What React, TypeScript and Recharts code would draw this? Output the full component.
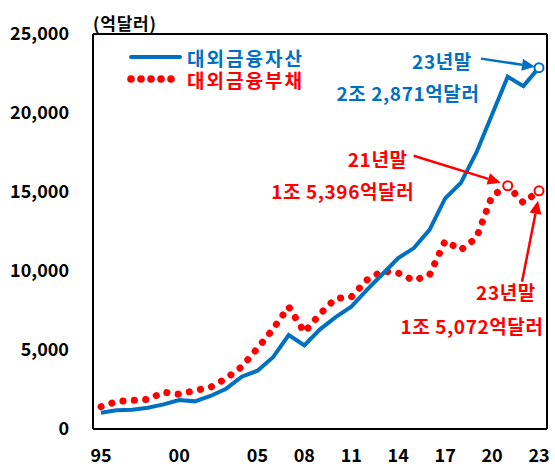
import { LineChart, Line, XAxis, YAxis, ReferenceDot, Legend } from 'recharts'

const years = [
  1995, 1996, 1997, 1998, 1999, 2000, 2001, 2002, 2003, 2004, 2005, 2006, 2007, 2008, 2009,
  2010, 2011, 2012, 2013, 2014, 2015, 2016, 2017, 2018, 2019, 2020, 2021, 2022, 2023,
]
// 대외금융자산 (억달러)
const assets = [
  1030, 1180, 1220, 1350, 1560, 1835, 1750, 2090, 2550, 3310, 3690, 4540, 5950, 5290, 6310,
  7080, 7740, 8800, 9810, 10820, 11450, 12600, 14600, 15570, 17500, 19900, 22300, 21700, 22871,
]
// 대외금융부채 (억달러)
const liabilities = [
  1410, 1740, 1815, 1870, 2330, 2200, 2440, 2640, 3200, 3940, 5100, 6330, 7740, 6120, 7280,
  8270, 8350, 9430, 10000, 9870, 9400, 9750, 11900, 11330, 12100, 14750, 15396, 14320, 15072,
]

const xTicks = [1995, 2000, 2005, 2008, 2011, 2014, 2017, 2020, 2023]
const xTickLabels = ['95', '00', '05', '08', '11', '14', '17', '20', '23']
const yTicks = [0, 5000, 10000, 15000, 20000, 25000]
const seriesNames = ['대외금융자산', '대외금융부채']
const unitLabel = '(억달러)'

const data = years.map((year, i) => ({ year, assets: assets[i], liabilities: liabilities[i] }))

const BLUE = '#0070C0'
const RED = '#FF0000'
const FONT = "'Noto Sans CJK KR', 'Noto Sans', sans-serif"

function Arrow({ x1, y1, x2, y2, color }: { x1: number; y1: number; x2: number; y2: number; color: string }) {
  const ang = Math.atan2(y2 - y1, x2 - x1)
  const len = 13
  const half = 6
  const bx = x2 - len * Math.cos(ang)
  const by = y2 - len * Math.sin(ang)
  const px = -Math.sin(ang) * half
  const py = Math.cos(ang) * half
  return (
    <g>
      <line x1={x1} y1={y1} x2={bx} y2={by} stroke={color} strokeWidth={2.5} />
      <polygon points={`${x2},${y2} ${bx + px},${by + py} ${bx - px},${by - py}`} fill={color} />
    </g>
  )
}

type NoteOpts = {
  color: string
  title: string
  value: string
  titleAt: [number, number]
  valueAt: [number, number]
  from: [number, number]
  to: [number, number]
}

const noteShape = (o: NoteOpts) => (props: any) => {
  const { cx, cy } = props
  const txt = {
    fill: o.color,
    fontFamily: FONT,
    fontWeight: 700,
    fontSize: 19,
    letterSpacing: 0.6,
    textAnchor: 'middle' as const,
    dominantBaseline: 'central' as const,
  }
  return (
    <g>
      <Arrow x1={cx + o.from[0]} y1={cy + o.from[1]} x2={cx + o.to[0]} y2={cy + o.to[1]} color={o.color} />
      <text x={cx + o.titleAt[0]} y={cy + o.titleAt[1]} {...txt}>{o.title}</text>
      <text x={cx + o.valueAt[0]} y={cy + o.valueAt[1]} {...txt}>{o.value}</text>
      <circle cx={cx} cy={cy} r={4.5} fill="#fff" stroke={o.color} strokeWidth={2} />
    </g>
  )
}

const legendText = { fontFamily: FONT, fontWeight: 700, fontSize: 19, letterSpacing: 2 }

const LegendContent = () => (
  <svg width={220} height={46} style={{ overflow: 'visible' }}>
    <line x1={3} y1={11} x2={52} y2={11} stroke={BLUE} strokeWidth={4} strokeLinecap="round" />
    <text x={59} y={11} fill={BLUE} {...legendText} dominantBaseline="central">
      {seriesNames[0]}
    </text>
    {[0, 1, 2, 3, 4].map((i) => (
      <circle key={i} cx={3 + i * 10} cy={33} r={3.8} fill={RED} />
    ))}
    <text x={59} y={33} fill={RED} {...legendText} dominantBaseline="central">
      {seriesNames[1]}
    </text>
  </svg>
)

const tickStyle = { fill: '#000', fontFamily: FONT, fontWeight: 700, fontSize: 18 }

export default function App() {
  return (
    <div style={{ position: 'absolute', left: 0, top: 0, width: 555, height: 466, background: '#fff' }}>
      <LineChart width={555} height={466} data={data} margin={{ top: 34, right: 8, bottom: 0, left: 0 }}>
        <XAxis
          dataKey="year"
          type="number"
          domain={[1995, 2023]}
          ticks={xTicks}
          tickFormatter={(v) => xTickLabels[xTicks.indexOf(v)]}
          padding={{ left: 8, right: 8 }}
          height={37}
          tickSize={0}
          tickMargin={20}
          tickLine={false}
          axisLine={{ stroke: '#000', strokeWidth: 2 }}
          tick={tickStyle}
          interval={0}
        />
        <XAxis
          xAxisId="top"
          orientation="top"
          dataKey="year"
          type="number"
          domain={[1995, 2023]}
          mirror
          tick={false}
          tickLine={false}
          axisLine={{ stroke: '#000', strokeWidth: 2 }}
        />
        <YAxis
          type="number"
          domain={[0, 25000]}
          ticks={yTicks}
          width={93}
          tickSize={0}
          tickMargin={24}
          tickLine={false}
          axisLine={{ stroke: '#000', strokeWidth: 2 }}
          tick={tickStyle}
          tickFormatter={(v) => v.toLocaleString('en-US')}
          interval={0}
          label={{
            content: (p: any) => (
              <text
                x={p.viewBox.x + p.viewBox.width}
                y={p.viewBox.y - 12}
                fill="#000"
                fontFamily={FONT}
                fontWeight={700}
                fontSize={17}
                letterSpacing={0.8}
                dominantBaseline="central"
              >
                {unitLabel}
              </text>
            ),
          }}
        />
        <YAxis
          yAxisId="right"
          orientation="right"
          type="number"
          domain={[0, 25000]}
          mirror
          tick={false}
          tickLine={false}
          axisLine={{ stroke: '#000', strokeWidth: 2 }}
        />
        <Legend
          layout="vertical"
          align="center"
          verticalAlign="middle"
          content={<LegendContent />}
          wrapperStyle={{ position: 'absolute', left: 128, top: 46, width: 220, height: 46 }}
        />
        <Line
          dataKey="liabilities"
          stroke={RED}
          strokeWidth={7}
          strokeDasharray="0.1 11.3"
          strokeLinecap="round"
          dot={false}
          activeDot={false}
          isAnimationActive={false}
        />
        <Line
          dataKey="assets"
          stroke={BLUE}
          strokeWidth={4}
          dot={false}
          activeDot={false}
          isAnimationActive={false}
        />
        <ReferenceDot
          x={2023}
          y={assets[28]}
          r={4.5}
          shape={noteShape({
            color: BLUE,
            title: '23년말',
            value: '2조 2,871억달러',
            titleAt: [-97, -7],
            valueAt: [-131, 25],
            from: [-58, -9],
            to: [-4, -1],
          })}
        />
        <ReferenceDot
          x={2021}
          y={liabilities[26]}
          r={4.5}
          shape={noteShape({
            color: RED,
            title: '21년말',
            value: '1조 5,396억달러',
            titleAt: [-130, -27],
            valueAt: [-165, 5],
            from: [-94, -30],
            to: [-7, -3],
          })}
        />
        <ReferenceDot
          x={2023}
          y={liabilities[28]}
          r={4.5}
          shape={noteShape({
            color: RED,
            title: '23년말',
            value: '1조 5,072억달러',
            titleAt: [-33, 101],
            valueAt: [-67, 135],
            from: [-17, 91],
            to: [-1, 10],
          })}
        />
      </LineChart>
    </div>
  )
}
